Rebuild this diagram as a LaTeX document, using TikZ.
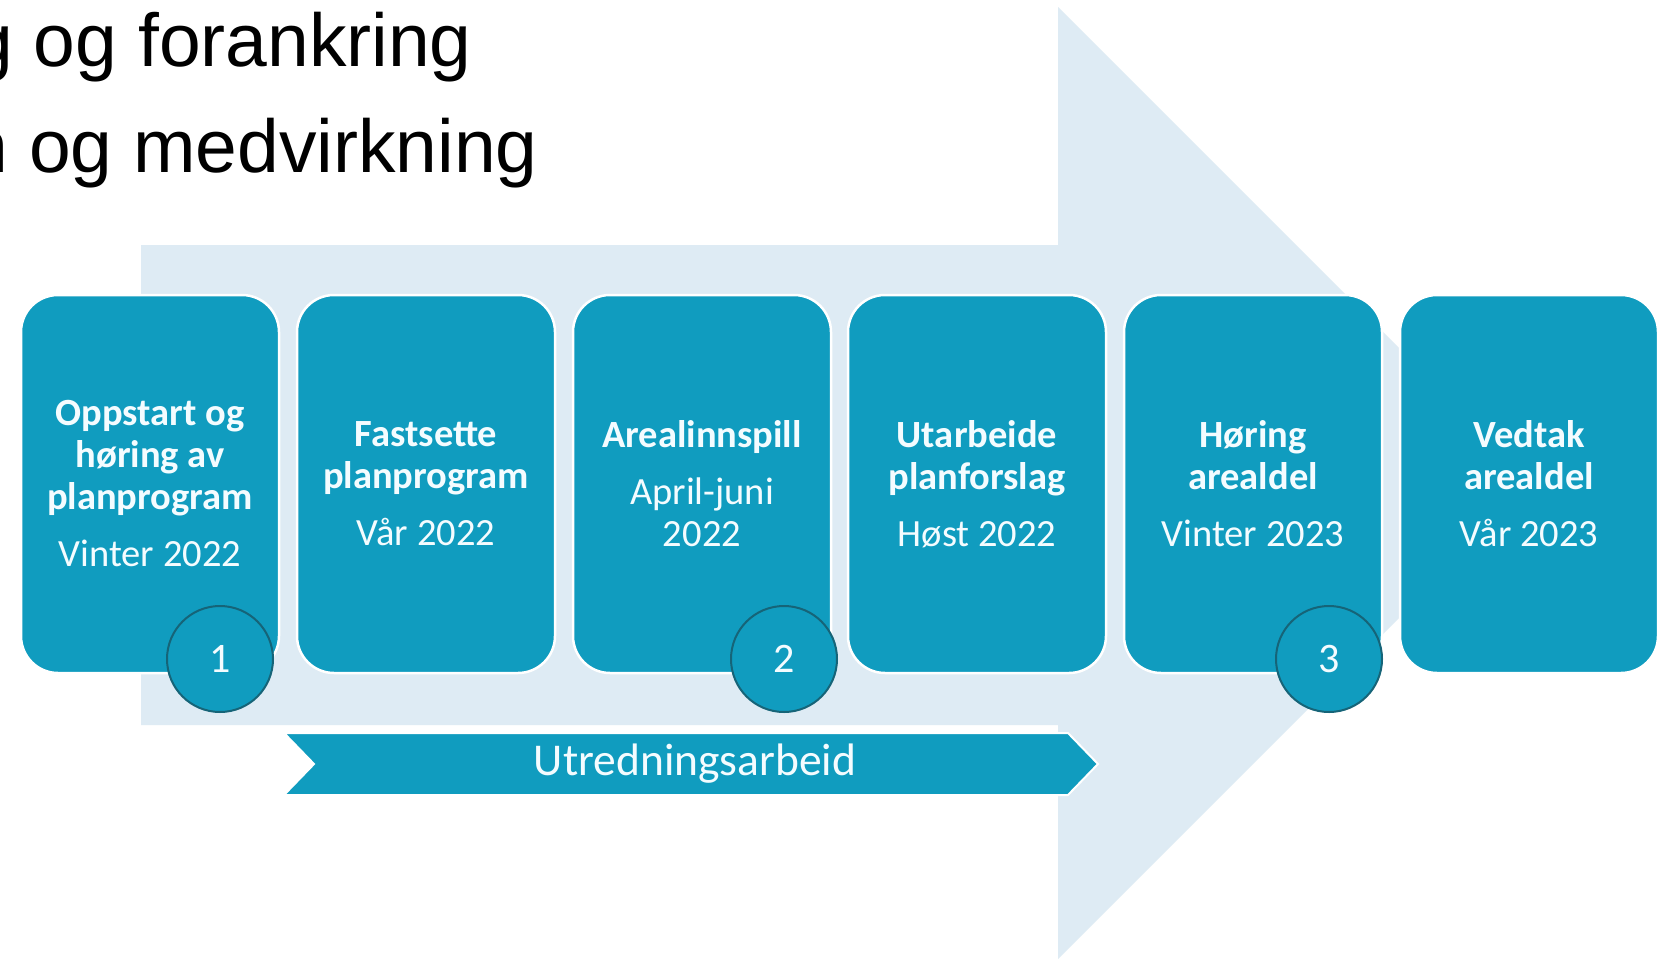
\documentclass[tikz,border=0pt]{standalone}
\usepackage{fontspec}
\setmainfont{Carlito}
\newfontfamily\arialfont{Liberation Sans}
\definecolor{teal1}{RGB}{16,156,191}
\definecolor{tealdark}{RGB}{22,100,120}
\definecolor{arrowbg}{RGB}{222,235,244}
\definecolor{txtw}{RGB}{244,252,255}
\tikzset{
  stepbox/.style={draw=white, line width=2.5pt, fill=teal1, rounded corners=37pt,
    minimum width=258pt, minimum height=378pt, align=center, text=txtw,
    font=\fontsize{38.5}{42}\selectfont, inner sep=0pt},
  numcirc/.style={circle, draw=tealdark, line width=2pt, fill=teal1,
    minimum size=106pt, inner sep=0pt, text=txtw, font=\fontsize{42}{44}\selectfont},
  chevshape/.style={fill=teal1, draw=white, line width=2pt},
  chevtext/.style={text=txtw, font=\fontsize{45.5}{48}\selectfont, inner sep=0pt},
  headline/.style={anchor=base east, inner sep=0pt, text=black, font=\arialfont\fontsize{75}{90}\selectfont}
}
\begin{document}
\begin{tikzpicture}[x=1pt,y=-1pt]
\useasboundingbox (0,0) rectangle (1663,959);
\clip (0,0) rectangle (1663,959);
\fill[white] (0,0) rectangle (1663,959);
% big background arrow
\fill[arrowbg] (141,245) -- (1058,245) -- (1058,7) -- (1534,483) -- (1058,959) -- (1058,725) -- (141,725) -- cycle;
% headline text (cut at the left edge)
\node[headline] (t1) at (472,66) {g og forankring};
\node[headline] (t2) at (538,172) {n og medvirkning};
% step boxes
\node[stepbox] (b1) at (150,484) {\textbf{Oppstart og}\\\textbf{høring av}\\\textbf{planprogram}\\[15pt]Vinter 2022};
\node[stepbox] (b2) at (426,484) {\textbf{Fastsette}\\\textbf{planprogram}\\[15pt]Vår 2022};
\node[stepbox] (b3) at (702,484) {\textbf{Arealinnspill}\\[15pt]April-juni\\2022};
\node[stepbox] (b4) at (977,484) {\textbf{Utarbeide}\\\textbf{planforslag}\\[15pt]Høst 2022};
\node[stepbox] (b5) at (1253,484) {\textbf{Høring}\\\textbf{arealdel}\\[15pt]Vinter 2023};
\node[stepbox] (b6) at (1529,484) {\textbf{Vedtak}\\\textbf{arealdel}\\[15pt]Vår 2023};
% numbered circles
\node[numcirc] (c1) at (220,659) {1};
\node[numcirc] (c2) at (784,659) {2};
\node[numcirc] (c3) at (1329,659) {3};
% chevron
\draw[chevshape] (284,733) -- (1068,733) -- (1098,764) -- (1068,795) -- (284,795) -- (314,764) -- cycle;
\node[chevtext] (u) at (695,764) {Utredningsarbeid};
\end{tikzpicture}
\end{document}
